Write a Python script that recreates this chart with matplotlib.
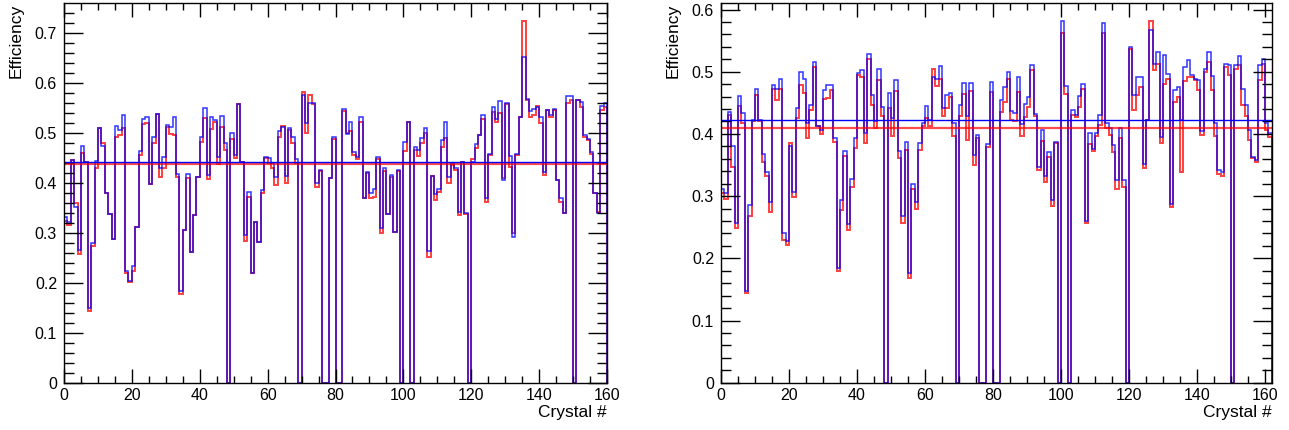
import numpy as np
import matplotlib
matplotlib.use("Agg")
import matplotlib.pyplot as plt
from matplotlib.ticker import MultipleLocator, FuncFormatter

plt.rcParams['font.family'] = ['Liberation Sans', 'DejaVu Sans']

# ---- data: efficiency per crystal (left / right pad, blue & red histograms) ----
left_blue = [
    0.332, 0.322, 0.445, 0.351, 0.265, 0.473, 0.442, 0.149, 0.280, 0.444,
    0.510, 0.473, 0.380, 0.337, 0.287, 0.513, 0.505, 0.535, 0.224, 0.203,
    0.234, 0.311, 0.464, 0.527, 0.532, 0.397, 0.491, 0.537, 0.429, 0.452,
    0.515, 0.512, 0.531, 0.417, 0.184, 0.305, 0.417, 0.262, 0.335, 0.412,
    0.492, 0.549, 0.415, 0.532, 0.525, 0.451, 0.533, 0.480, 0.000, 0.499,
    0.455, 0.557, 0.442, 0.295, 0.382, 0.219, 0.321, 0.281, 0.385, 0.452,
    0.449, 0.439, 0.412, 0.503, 0.511, 0.414, 0.510, 0.491, 0.447, 0.000,
    0.575, 0.520, 0.560, 0.560, 0.400, 0.425, 0.000, 0.000, 0.409, 0.492,
    0.000, 0.000, 0.547, 0.497, 0.521, 0.462, 0.452, 0.531, 0.369, 0.422,
    0.380, 0.387, 0.452, 0.309, 0.429, 0.337, 0.415, 0.302, 0.425, 0.000,
    0.482, 0.522, 0.000, 0.472, 0.465, 0.489, 0.509, 0.264, 0.414, 0.377,
    0.387, 0.485, 0.521, 0.412, 0.439, 0.429, 0.341, 0.441, 0.339, 0.000,
    0.442, 0.477, 0.495, 0.535, 0.369, 0.457, 0.551, 0.527, 0.564, 0.405,
    0.560, 0.453, 0.291, 0.457, 0.531, 0.652, 0.567, 0.543, 0.547, 0.551,
    0.531, 0.422, 0.545, 0.535, 0.547, 0.405, 0.369, 0.339, 0.573, 0.573,
    0.000, 0.565, 0.562, 0.495, 0.487, 0.462, 0.379, 0.340, 0.553, 0.560,
]
left_red = [
    0.324, 0.315, 0.445, 0.360, 0.257, 0.460, 0.442, 0.144, 0.273, 0.429,
    0.510, 0.480, 0.380, 0.337, 0.287, 0.492, 0.495, 0.509, 0.219, 0.202,
    0.224, 0.311, 0.455, 0.517, 0.519, 0.397, 0.479, 0.537, 0.411, 0.429,
    0.511, 0.497, 0.495, 0.412, 0.178, 0.305, 0.410, 0.262, 0.335, 0.412,
    0.482, 0.529, 0.407, 0.507, 0.522, 0.437, 0.512, 0.465, 0.000, 0.487,
    0.449, 0.557, 0.442, 0.284, 0.372, 0.219, 0.321, 0.281, 0.380, 0.450,
    0.440, 0.429, 0.395, 0.492, 0.513, 0.400, 0.505, 0.480, 0.439, 0.000,
    0.582, 0.500, 0.575, 0.557, 0.391, 0.424, 0.000, 0.000, 0.409, 0.487,
    0.000, 0.000, 0.543, 0.499, 0.503, 0.455, 0.447, 0.522, 0.369, 0.419,
    0.369, 0.371, 0.447, 0.299, 0.423, 0.337, 0.412, 0.302, 0.424, 0.000,
    0.464, 0.522, 0.000, 0.465, 0.453, 0.479, 0.499, 0.252, 0.414, 0.365,
    0.381, 0.472, 0.489, 0.400, 0.435, 0.425, 0.335, 0.441, 0.337, 0.000,
    0.448, 0.470, 0.495, 0.527, 0.362, 0.455, 0.542, 0.522, 0.539, 0.409,
    0.558, 0.432, 0.299, 0.455, 0.531, 0.724, 0.565, 0.532, 0.535, 0.553,
    0.520, 0.415, 0.545, 0.532, 0.545, 0.405, 0.362, 0.339, 0.559, 0.565,
    0.000, 0.565, 0.552, 0.492, 0.485, 0.458, 0.379, 0.342, 0.545, 0.552,
]
right_blue = [
    0.312, 0.305, 0.436, 0.380, 0.257, 0.461, 0.433, 0.148, 0.285, 0.423,
    0.473, 0.423, 0.368, 0.338, 0.291, 0.479, 0.473, 0.488, 0.240, 0.228,
    0.380, 0.306, 0.441, 0.499, 0.488, 0.417, 0.447, 0.516, 0.413, 0.407,
    0.471, 0.479, 0.479, 0.393, 0.185, 0.293, 0.372, 0.255, 0.328, 0.393,
    0.498, 0.502, 0.401, 0.529, 0.462, 0.421, 0.505, 0.444, 0.000, 0.466,
    0.425, 0.486, 0.373, 0.268, 0.387, 0.176, 0.320, 0.290, 0.386, 0.417,
    0.445, 0.422, 0.492, 0.489, 0.509, 0.441, 0.462, 0.466, 0.417, 0.000,
    0.447, 0.482, 0.429, 0.482, 0.366, 0.398, 0.000, 0.000, 0.384, 0.484,
    0.000, 0.000, 0.454, 0.475, 0.500, 0.437, 0.434, 0.492, 0.416, 0.448,
    0.459, 0.511, 0.432, 0.347, 0.407, 0.332, 0.371, 0.294, 0.387, 0.000,
    0.582, 0.477, 0.000, 0.438, 0.430, 0.461, 0.480, 0.260, 0.401, 0.375,
    0.401, 0.430, 0.578, 0.417, 0.409, 0.382, 0.326, 0.409, 0.326, 0.000,
    0.540, 0.462, 0.491, 0.492, 0.352, 0.423, 0.567, 0.513, 0.531, 0.395,
    0.527, 0.497, 0.288, 0.471, 0.476, 0.423, 0.507, 0.519, 0.495, 0.489,
    0.487, 0.404, 0.505, 0.531, 0.493, 0.417, 0.342, 0.339, 0.512, 0.510,
    0.000, 0.511, 0.525, 0.473, 0.446, 0.407, 0.363, 0.358, 0.511, 0.520,
    0.418, 0.401,
]
right_red = [
    0.305, 0.296, 0.430, 0.346, 0.248, 0.445, 0.417, 0.144, 0.268, 0.420,
    0.462, 0.420, 0.355, 0.333, 0.275, 0.473, 0.454, 0.472, 0.230, 0.221,
    0.386, 0.298, 0.425, 0.479, 0.465, 0.394, 0.438, 0.508, 0.413, 0.400,
    0.456, 0.457, 0.471, 0.387, 0.180, 0.277, 0.364, 0.245, 0.314, 0.377,
    0.495, 0.491, 0.385, 0.520, 0.446, 0.409, 0.487, 0.429, 0.000, 0.441,
    0.397, 0.469, 0.361, 0.257, 0.374, 0.168, 0.312, 0.279, 0.374, 0.413,
    0.425, 0.412, 0.505, 0.477, 0.488, 0.428, 0.441, 0.460, 0.396, 0.000,
    0.428, 0.464, 0.390, 0.469, 0.350, 0.393, 0.000, 0.000, 0.379, 0.468,
    0.000, 0.000, 0.436, 0.452, 0.488, 0.423, 0.421, 0.468, 0.397, 0.427,
    0.444, 0.503, 0.428, 0.342, 0.389, 0.322, 0.363, 0.284, 0.386, 0.000,
    0.562, 0.464, 0.000, 0.430, 0.427, 0.443, 0.473, 0.257, 0.384, 0.373,
    0.397, 0.415, 0.562, 0.409, 0.398, 0.371, 0.312, 0.393, 0.314, 0.000,
    0.537, 0.439, 0.462, 0.476, 0.345, 0.423, 0.582, 0.503, 0.513, 0.386,
    0.481, 0.489, 0.282, 0.452, 0.460, 0.338, 0.485, 0.491, 0.491, 0.487,
    0.471, 0.398, 0.500, 0.516, 0.471, 0.397, 0.335, 0.332, 0.508, 0.495,
    0.000, 0.504, 0.511, 0.447, 0.428, 0.390, 0.361, 0.355, 0.487, 0.513,
    0.406, 0.395,
]
# average lines drawn across each pad
left_mean_blue, left_mean_red = 0.442, 0.437
right_mean_blue, right_mean_red = 0.423, 0.410

x_title = "Crystal #"
y_title = "Efficiency"


def fmt(v, pos):
    return "0" if abs(v) < 1e-9 else f"{v:g}"


def draw_pad(ax, blue, red, mean_b, mean_r, xmax, ymax, ylab_dx):
    edges_r = np.arange(len(red) + 1)
    edges_b = np.arange(len(blue) + 1)
    ax.axhline(mean_r, color='#ff0000', lw=1.6, alpha=0.7)
    ax.axhline(mean_b, color='#0000ff', lw=1.0)
    ax.stairs(red, edges_r, color='#ff0000', lw=1.4, alpha=0.75)
    ax.stairs(blue, edges_b, color='#0000ff', lw=1.1, alpha=0.8)

    ax.set_xlim(0, xmax)
    ax.set_ylim(0, ymax)
    ax.xaxis.set_major_locator(MultipleLocator(20))
    ax.xaxis.set_minor_locator(MultipleLocator(5))
    ax.yaxis.set_major_locator(MultipleLocator(0.1))
    ax.yaxis.set_minor_locator(MultipleLocator(0.02))
    ax.yaxis.set_major_formatter(FuncFormatter(fmt))

    ax.tick_params(which='both', direction='in', top=True, right=True,
                   labelsize=11.5, width=1.0)
    ax.tick_params(axis='y', which='major', length=14, pad=5)
    ax.tick_params(axis='y', which='minor', length=7)
    ax.tick_params(axis='x', which='major', length=10, pad=4)
    ax.tick_params(axis='x', which='minor', length=5)
    for s in ax.spines.values():
        s.set_linewidth(1.0)

    ax.set_xlabel(x_title, fontsize=12.5, loc='right')
    ax.xaxis.set_label_coords(1.0, -0.058)
    ax.set_ylabel(y_title, fontsize=12.5, loc='top')
    ax.yaxis.set_label_coords(ylab_dx, 1.0)


fig = plt.figure(figsize=(12.89, 4.30), dpi=100)
ax1 = fig.add_axes([64 / 1289, 47.3 / 430, 543 / 1289, 379.4 / 430])
ax2 = fig.add_axes([721 / 1289, 47.3 / 430, 550.8 / 1289, 379.4 / 430])

draw_pad(ax1, left_blue, left_red, left_mean_blue, left_mean_red,
         160, 0.759, -40 / 543)
draw_pad(ax2, right_blue, right_red, right_mean_blue, right_mean_red,
         162, 0.61, -40 / 550.8)

fig.savefig("out.png", dpi=100)
